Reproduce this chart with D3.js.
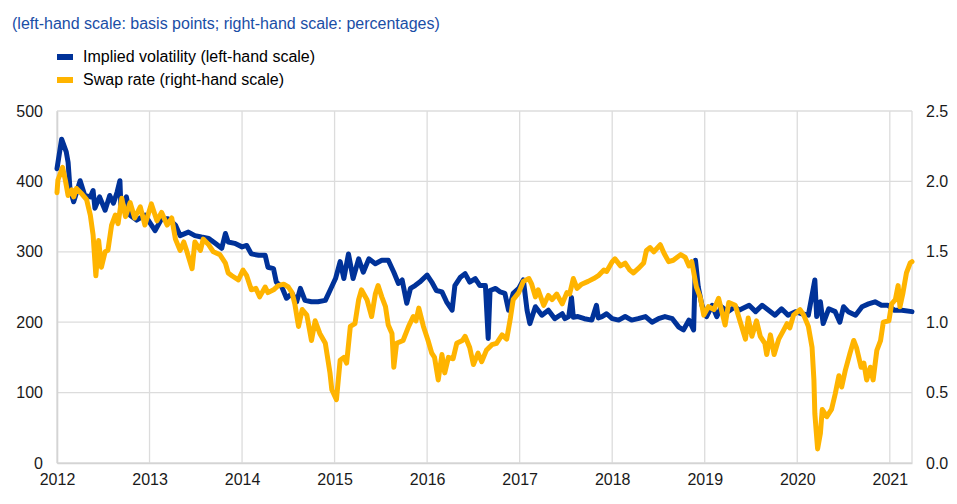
<!DOCTYPE html>
<html>
<head>
<meta charset="utf-8">
<script src="https://cdn.jsdelivr.net/npm/d3@7"></script>
<style>
  body { margin: 0; background: #fff; }
  text { font-family: "Liberation Sans", Arial, sans-serif; }
</style>
</head>
<body>
<div id="chart"></div>
<script>
// implied volatility, basis points (left-hand scale)
var volDates = [2012.00,2012.05,2012.10,2012.12,2012.14,2012.18,2012.25,2012.30,2012.36,2012.39,2012.41,2012.46,2012.52,2012.57,2012.61,2012.65,2012.68,2012.69,2012.75,2012.79,2012.86,2012.95,
  2013.06,2013.13,2013.20,2013.28,2013.33,2013.42,2013.49,2013.56,2013.64,2013.71,2013.78,2013.82,2013.85,2013.92,
  2014.00,2014.05,2014.10,2014.18,2014.25,2014.28,2014.34,2014.37,2014.43,2014.48,2014.54,2014.59,2014.63,2014.68,2014.75,2014.82,2014.90,2014.95,
  2015.01,2015.06,2015.10,2015.15,2015.20,2015.26,2015.31,2015.37,2015.44,2015.51,2015.58,2015.64,2015.69,2015.73,2015.78,2015.82,2015.87,2015.92,
  2016.00,2016.05,2016.10,2016.16,2016.21,2016.27,2016.30,2016.36,2016.41,2016.46,2016.52,2016.57,2016.63,2016.66,2016.68,2016.74,2016.79,2016.84,2016.88,2016.93,2016.99,
  2017.04,2017.08,2017.11,2017.17,2017.24,2017.31,2017.38,2017.46,2017.49,2017.53,2017.56,2017.58,2017.63,2017.70,2017.78,2017.83,2017.85,2017.89,2017.94,
  2018.00,2018.07,2018.14,2018.21,2018.28,2018.36,2018.43,2018.50,2018.57,2018.65,2018.72,2018.77,2018.83,2018.88,2018.90,2018.93,2018.97,
  2019.02,2019.08,2019.13,2019.18,2019.25,2019.33,2019.37,2019.48,2019.55,2019.62,2019.69,2019.76,2019.83,2019.90,2019.98,
  2020.05,2020.12,2020.19,2020.21,2020.25,2020.28,2020.34,2020.41,2020.46,2020.50,2020.55,2020.63,2020.70,2020.77,2020.84,2020.91,2020.98,
  2021.05,2021.13,2021.24];
var volValues = [418,460,442,427,390,371,401,380,378,387,362,378,359,380,369,385,401,366,378,352,345,352,
  330,347,347,338,323,328,323,321,319,312,305,326,314,312,
  307,309,297,295,295,278,276,257,250,234,241,229,248,231,229,229,231,245,
  262,286,262,297,262,290,271,290,283,288,288,271,255,260,227,248,252,257,
  267,257,245,243,229,217,252,264,269,257,262,252,252,177,245,248,243,241,217,241,248,
  260,217,198,222,210,217,205,212,205,208,235,207,208,205,203,224,206,208,212,
  205,203,208,203,205,208,200,205,208,205,193,189,203,189,288,250,224,
  208,224,208,222,215,222,217,224,215,224,217,210,219,210,215,
  212,210,260,208,229,198,219,215,200,222,215,210,222,226,229,224,224,
  217,217,215];

// swap rate, percentages (right-hand scale)
var swapDates = [2012.00,2012.01,2012.06,2012.09,2012.12,2012.16,2012.18,2012.21,2012.27,2012.32,2012.36,2012.39,2012.42,2012.45,2012.48,2012.52,2012.55,2012.59,2012.63,2012.66,2012.70,2012.74,2012.79,2012.84,2012.90,2012.95,
  2013.02,2013.08,2013.13,2013.19,2013.24,2013.28,2013.33,2013.37,2013.40,2013.46,2013.49,2013.55,2013.58,2013.64,2013.69,2013.76,2013.82,2013.85,2013.89,2013.96,
  2014.01,2014.05,2014.10,2014.15,2014.19,2014.25,2014.28,2014.34,2014.39,2014.45,2014.50,2014.54,2014.57,2014.61,2014.65,2014.70,2014.75,2014.79,2014.84,2014.90,2014.95,2014.97,
  2015.02,2015.06,2015.10,2015.13,2015.17,2015.22,2015.26,2015.29,2015.35,2015.40,2015.44,2015.47,2015.51,2015.55,2015.58,2015.62,2015.64,2015.67,2015.74,2015.80,2015.85,2015.88,2015.91,2015.96,
  2016.01,2016.05,2016.08,2016.12,2016.16,2016.19,2016.23,2016.28,2016.32,2016.38,2016.41,2016.46,2016.50,2016.55,2016.59,2016.64,2016.70,2016.75,2016.81,2016.86,2016.90,2016.93,2016.99,
  2017.04,2017.10,2017.13,2017.17,2017.20,2017.26,2017.31,2017.35,2017.40,2017.46,2017.51,2017.54,2017.58,2017.62,2017.67,2017.74,2017.80,2017.85,2017.91,2017.94,
  2018.00,2018.03,2018.09,2018.14,2018.19,2018.23,2018.28,2018.34,2018.37,2018.41,2018.45,2018.52,2018.56,2018.61,2018.66,2018.74,2018.79,2018.83,2018.86,2018.91,2018.95,2018.99,
  2019.04,2019.10,2019.15,2019.18,2019.22,2019.26,2019.33,2019.38,2019.44,2019.47,2019.51,2019.56,2019.60,2019.65,2019.67,2019.71,2019.75,2019.80,2019.85,2019.89,2019.92,2019.96,
  2020.03,2020.07,2020.12,2020.16,2020.18,2020.19,2020.22,2020.25,2020.27,2020.32,2020.37,2020.41,2020.45,2020.48,2020.52,2020.57,2020.61,2020.64,2020.69,2020.72,2020.75,2020.79,2020.82,2020.86,2020.90,2020.93,2020.99,
  2021.02,2021.06,2021.09,2021.11,2021.14,2021.18,2021.22,2021.24];
var swapValues = [1.92,2.01,2.10,2.01,1.90,1.94,1.89,1.95,1.91,1.87,1.76,1.62,1.33,1.58,1.39,1.50,1.51,1.69,1.76,1.70,1.88,1.75,1.85,1.74,1.82,1.69,
  1.84,1.72,1.78,1.69,1.74,1.59,1.51,1.57,1.51,1.38,1.57,1.51,1.59,1.55,1.50,1.48,1.42,1.35,1.33,1.30,
  1.37,1.33,1.23,1.24,1.18,1.25,1.21,1.23,1.26,1.27,1.25,1.21,1.13,0.97,1.09,1.05,0.87,1.01,0.92,0.85,0.64,0.52,
  0.45,0.73,0.75,0.71,0.97,0.99,1.16,1.23,1.16,1.04,1.20,1.26,1.18,1.11,0.98,0.92,0.68,0.85,0.87,0.97,1.04,1.01,1.10,0.97,
  0.87,0.78,0.75,0.59,0.77,0.64,0.75,0.74,0.85,0.87,0.90,0.82,0.70,0.78,0.72,0.80,0.84,0.85,0.91,0.88,1.03,1.16,1.21,
  1.29,1.31,1.27,1.18,1.23,1.12,1.19,1.16,1.20,1.13,1.21,1.20,1.31,1.24,1.27,1.29,1.31,1.33,1.37,1.36,
  1.43,1.45,1.40,1.42,1.37,1.35,1.38,1.42,1.51,1.53,1.50,1.55,1.49,1.43,1.44,1.48,1.46,1.40,1.43,1.25,1.18,1.05,
  1.11,1.09,1.17,1.09,0.98,1.14,1.12,1.01,0.88,1.03,0.90,1.01,0.90,0.85,0.77,0.91,0.77,0.88,0.94,0.99,0.96,1.05,
  1.09,1.05,0.97,0.82,0.59,0.35,0.10,0.21,0.38,0.33,0.38,0.49,0.62,0.54,0.66,0.78,0.87,0.82,0.68,0.71,0.59,0.68,0.59,0.80,0.87,1.00,1.01,
  1.13,1.16,1.26,1.11,1.20,1.35,1.42,1.43];

var yearTicks = [2012,2013,2014,2015,2016,2017,2018,2019,2020,2021];
var leftTicks = [0,100,200,300,400,500];
var rightTicks = [0,0.5,1.0,1.5,2.0,2.5];

var seriesNames = ["Implied volatility (left-hand scale)", "Swap rate (right-hand scale)"];
var seriesColors = ["#003299", "#ffb400"];
var subtitle = "(left-hand scale: basis points; right-hand scale: percentages)";

var W = 957, H = 504;
var margin = {top: 111, right: 45, bottom: 41, left: 57};
var width = W - margin.left - margin.right,
    height = H - margin.top - margin.bottom;

var svg = d3.select("#chart").append("svg")
    .attr("width", W)
    .attr("height", H);

//subtitle
svg.append("text")
    .attr("x", 12).attr("y", 29)
    .style("font-size", "16px")
    .style("fill", "#1a4ea6")
    .text(subtitle);

//legend
var legend = svg.append("g").attr("transform", "translate(57,50)");
seriesNames.forEach(function(name, i) {
  legend.append("rect")
    .attr("x", 0).attr("y", i * 23 + 4)
    .attr("width", 16).attr("height", 6)
    .attr("fill", seriesColors[i]);
  legend.append("text")
    .attr("x", 26).attr("y", i * 23 + 12)
    .style("font-size", "16px")
    .style("fill", "#000")
    .text(name);
});

var g = svg.append("g")
    .attr("transform", "translate(" + margin.left + "," + margin.top + ")");

var x = d3.scaleLinear().domain([2012, 2021.24]).range([0, width]);
var yL = d3.scaleLinear().domain([0, 500]).range([height, 0]);
var yR = d3.scaleLinear().domain([0, 2.5]).range([height, 0]);

//grid
g.append("g").selectAll("line.h")
    .data(leftTicks)
    .enter().append("line")
    .attr("x1", 0).attr("x2", width)
    .attr("y1", function(d) { return yL(d); })
    .attr("y2", function(d) { return yL(d); })
    .attr("stroke", "#dcdcdc").attr("stroke-width", 1.3);

g.append("g").selectAll("line.v")
    .data(yearTicks)
    .enter().append("line")
    .attr("x1", function(d) { return x(d); })
    .attr("x2", function(d) { return x(d); })
    .attr("y1", 0).attr("y2", height)
    .attr("stroke", "#dcdcdc").attr("stroke-width", 1.3);

g.append("line")
    .attr("x1", width).attr("x2", width)
    .attr("y1", 0).attr("y2", height)
    .attr("stroke", "#dcdcdc").attr("stroke-width", 1.3);

//axes
var xAxis = g.append("g")
    .attr("transform", "translate(0," + height + ")")
    .call(d3.axisBottom(x).tickValues(yearTicks).tickFormat(d3.format("d")).tickSize(0).tickPadding(11));
var leftAxis = g.append("g")
    .call(d3.axisLeft(yL).tickValues(leftTicks).tickSize(0).tickPadding(14));
var rightAxis = g.append("g")
    .attr("transform", "translate(" + width + ",0)")
    .call(d3.axisRight(yR).tickValues(rightTicks).tickFormat(d3.format(".1f")).tickSize(0).tickPadding(14));

[xAxis, leftAxis, rightAxis].forEach(function(a) {
  a.select(".domain").attr("stroke", "#d4d4d4").attr("stroke-width", 1.6);
  a.selectAll("text")
    .style("font-size", "16px")
    .style("fill", "#1a1a1a")
    .style("font-family", "'Liberation Sans', Arial, sans-serif");
});
rightAxis.select(".domain").remove();

//lines
var volData = volDates.map(function(d, i) { return [d, volValues[i]]; });
var swapData = swapDates.map(function(d, i) { return [d, swapValues[i]]; });

var volLine = d3.line()
    .x(function(d) { return x(d[0]); })
    .y(function(d) { return yL(d[1]); });
var swapLine = d3.line()
    .x(function(d) { return x(d[0]); })
    .y(function(d) { return yR(d[1]); });

g.append("path")
    .datum(volData)
    .attr("d", volLine)
    .attr("fill", "none")
    .attr("stroke", seriesColors[0])
    .attr("stroke-width", 5)
    .attr("stroke-linejoin", "round")
    .attr("stroke-linecap", "round");

g.append("path")
    .datum(swapData)
    .attr("d", swapLine)
    .attr("fill", "none")
    .attr("stroke", seriesColors[1])
    .attr("stroke-width", 5)
    .attr("stroke-linejoin", "round")
    .attr("stroke-linecap", "round");
</script>
</body>
</html>
